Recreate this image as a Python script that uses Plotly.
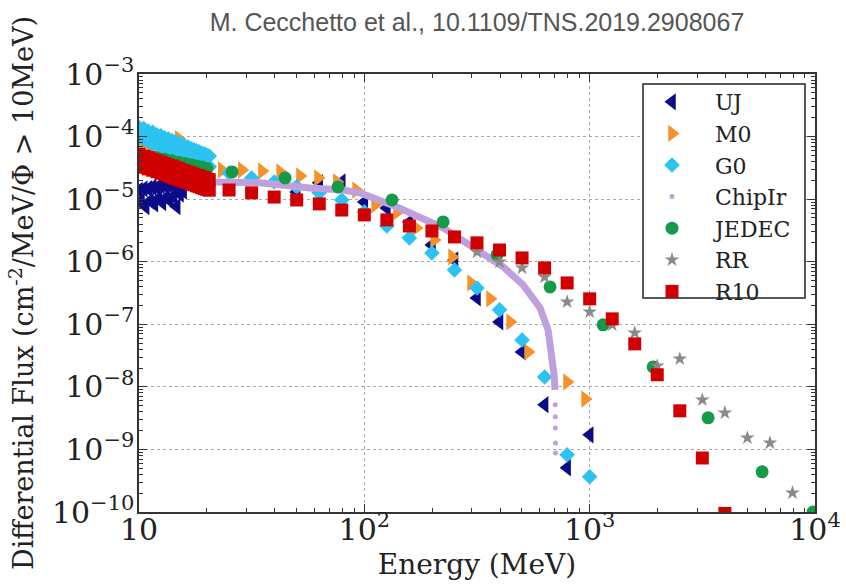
import plotly.graph_objects as go

# ---------------- data (Energy in MeV, differential flux) ----------------
# UJ
uj_dense_top_E = [10.0, 10.5, 11.0, 11.5, 12.0, 12.5, 13.0, 13.5, 14.0, 14.5, 15.0, 15.5, 16.0]
uj_dense_top_F = [1.38e-5, 1.46e-5, 1.47e-5, 1.55e-5, 1.54e-5, 1.63e-5, 1.64e-5, 1.72e-5, 1.71e-5, 1.80e-5, 1.83e-5, 1.92e-5, 1.90e-5]
uj_dense_low_E = [10.2, 10.7, 11.2, 11.7, 12.2, 12.7, 13.2, 13.7, 14.2, 14.7, 15.2, 15.7]
uj_dense_low_F = [9.2e-6, 7.6e-6, 9.4e-6, 8.4e-6, 1.02e-5, 8.8e-6, 1.06e-5, 9.6e-6, 1.12e-5, 7.6e-6, 1.20e-5, 1.35e-5]
uj_E = [50.1, 63.1, 79.4, 100, 125.9, 158.5, 199.5, 251.2, 316.2, 398.1, 501.2, 631.0, 794.3, 1000]
uj_F = [1.30e-5, 1.82e-5, 1.88e-5, 9.0e-6, 7.2e-6, 4.3e-6, 1.85e-6, 1.07e-6, 2.64e-7, 1.09e-7, 3.62e-8, 5.2e-9, 5.1e-10, 1.71e-9]

# M0
m0_dense_E = [10.0, 10.5, 11.0, 11.5, 12.0, 12.5, 13.0, 13.5, 14.0, 14.5, 15.0, 15.5, 16.0, 16.5, 17.0, 17.5, 18.0, 18.5, 19.0, 15.0]
m0_dense_F = [7.2e-5, 5.9e-5, 6.8e-5, 5.6e-5, 6.4e-5, 5.3e-5, 6.2e-5, 5.1e-5, 5.9e-5, 4.9e-5, 5.7e-5, 4.7e-5, 5.5e-5, 4.5e-5, 5.3e-5, 4.4e-5, 5.1e-5, 4.2e-5, 4.9e-5, 9.3e-5]
m0_E = [23.3, 28.6, 35.1, 42.3, 51.8, 62.3, 75.6, 91.9, 111.6, 139.7, 169.6, 203.9, 245.1, 297.6, 361.4, 443.5, 533.0, 793.5, 954.0]
m0_F = [2.92e-5, 2.92e-5, 2.82e-5, 2.72e-5, 2.35e-5, 2.18e-5, 1.88e-5, 1.40e-5, 8.1e-6, 6.25e-6, 3.47e-6, 2.23e-6, 1.19e-6, 4.58e-7, 2.55e-7, 1.09e-7, 3.62e-8, 1.20e-8, 6.4e-9]

# G0
g0_dense_E = [10.0, 10.5, 11.0, 11.5, 12.0, 12.5, 13.0, 13.5, 14.0, 14.5, 15.0, 15.5, 16.0, 16.5, 17.0, 17.5, 18.0, 18.5, 19.0, 19.5, 20.0, 20.5]
g0_dense_hi_F = [1.40e-4, 1.34e-4, 1.21e-4, 1.17e-4, 1.07e-4, 1.03e-4, 9.5e-5, 9.1e-5, 8.6e-5, 8.3e-5, 7.7e-5, 7.5e-5, 7.0e-5, 6.8e-5, 6.4e-5, 6.2e-5, 5.9e-5, 5.7e-5, 5.4e-5, 5.3e-5, 5.0e-5, 4.9e-5]
g0_dense_lo_F = [9.6e-5, 9.1e-5, 8.4e-5, 7.8e-5, 7.4e-5, 7.0e-5, 6.6e-5, 6.1e-5, 5.9e-5, 5.6e-5, 5.3e-5, 5.0e-5, 4.8e-5, 4.6e-5, 4.4e-5, 4.2e-5, 4.0e-5, 3.9e-5, 3.7e-5, 3.6e-5, 3.45e-5, 3.3e-5]
g0_E = [25.1, 31.6, 39.8, 50.1, 63.1, 79.4, 100, 125.9, 158.5, 199.5, 251.2, 316.2, 398.1, 501.2, 631.0, 794.3, 1000]
g0_F = [2.62e-5, 2.18e-5, 1.88e-5, 1.57e-5, 1.26e-5, 9.7e-6, 6.25e-6, 3.73e-6, 2.40e-6, 1.38e-6, 7.4e-7, 3.81e-7, 1.70e-7, 5.6e-8, 1.44e-8, 8.2e-10, 3.65e-10]

# ChipIr
chip_E = [10, 12.4, 16.0, 21.7, 34.4, 57.4, 80.4, 95.7, 139.7, 223.6, 309.9, 412.7, 506.3, 602.3, 653.9, 681, 695, 702]
chip_F = [2.92e-5, 2.53e-5, 2.18e-5, 1.88e-5, 1.82e-5, 1.51e-5, 1.40e-5, 1.26e-5, 7.5e-6, 3.47e-6, 1.66e-6, 8.3e-7, 4.26e-7, 1.83e-7, 8.1e-8, 3.24e-8, 1.56e-8, 8.95e-9]
chip_tail_E = [703, 704, 704, 705, 705]
chip_tail_F = [5.2e-9, 3.32e-9, 2.21e-9, 1.27e-9, 8.8e-10]

# JEDEC
jedec_E = [10, 11, 12, 13, 14, 15, 16, 17, 18, 19, 20,
           25.9, 44.5, 76.4, 132.7, 223.6, 388, 667, 1147, 1912, 3354, 5826, 9808]
jedec_F = [5.2e-5, 4.9e-5, 4.6e-5, 4.35e-5, 4.1e-5, 3.9e-5, 3.7e-5, 3.55e-5, 3.4e-5, 3.25e-5, 3.1e-5,
           2.72e-5, 2.18e-5, 1.57e-5, 9.7e-6, 4.33e-6, 1.29e-6, 3.95e-7, 9.8e-8, 2.08e-8, 3.2e-9, 4.39e-10, 1.0e-10]

# RR
rr_E = [316.2, 398.1, 501.2, 631.0, 794.3, 1000, 1259, 1585, 1995, 2512, 3162, 3981, 5012, 6310, 7943]
rr_F = [1.43e-6, 9.9e-7, 7.96e-7, 5.7e-7, 2.28e-7, 1.58e-7, 9.8e-8, 7.3e-8, 2.16e-8, 2.8e-8, 6.2e-9, 3.85e-9, 1.53e-9, 1.27e-9, 2.03e-10]

# R10
r10_dense_E = [10.0, 10.5, 11.0, 11.5, 12.0, 12.5, 13.0, 13.5, 14.0, 14.5, 15.0, 15.5, 16.0, 16.5, 17.0, 17.5, 18.0, 18.5, 19.0, 19.5, 20.0, 20.5]
r10_dense_hi_F = [5.2e-5, 4.8e-5, 4.6e-5, 4.3e-5, 4.1e-5, 3.9e-5, 3.7e-5, 3.5e-5, 3.4e-5, 3.2e-5, 3.1e-5, 2.9e-5, 2.8e-5, 2.7e-5, 2.6e-5, 2.5e-5, 2.4e-5, 2.35e-5, 2.25e-5, 2.2e-5, 2.1e-5, 2.05e-5]
r10_dense_lo_F = [3.5e-5, 3.25e-5, 3.05e-5, 2.9e-5, 2.75e-5, 2.6e-5, 2.5e-5, 2.35e-5, 2.25e-5, 2.15e-5, 2.05e-5, 1.98e-5, 1.9e-5, 1.83e-5, 1.76e-5, 1.7e-5, 1.63e-5, 1.58e-5, 1.52e-5, 1.48e-5, 1.43e-5, 1.39e-5]
r10_E = [25.1, 31.6, 39.8, 50.1, 63.1, 79.4, 100, 125.9, 158.5, 199.5, 251.2, 316.2, 398.1, 501.2, 631.0, 794.3, 1000, 1259, 1585, 1995, 2512, 3162, 3981]
r10_F = [1.40e-5, 1.26e-5, 1.08e-5, 9.7e-6, 8.4e-6, 6.7e-6, 5.6e-6, 4.66e-6, 3.73e-6, 3.1e-6, 2.49e-6, 2.0e-6, 1.54e-6, 1.15e-6, 7.96e-7, 4.58e-7, 2.55e-7, 1.22e-7, 4.86e-8, 1.56e-8, 4.14e-9, 7.3e-10, 9.5e-11]

TITLE = "M. Cecchetto et al., 10.1109/TNS.2019.2908067"
XTITLE = "Energy (MeV)"
YTITLE = "Differential Flux (cm<sup>-2</sup>/MeV/Φ > 10MeV)"

# ---------------- styles ----------------
C_UJ = "#0b0b8a"
C_M0 = "#f7922a"
C_G0 = "#2cc3f3"
C_CHIP = "#c0a0dc"
C_JEDEC = "#17994a"
C_RR = "#8a8a8a"
C_R10 = "#d00000"
SERIF = "DejaVu Serif"

fig = go.Figure()

def scat(x, y, name, symbol, color, size, show=True):
    fig.add_trace(go.Scatter(
        x=x, y=y, mode="markers", name=name, legendgroup=name, showlegend=show,
        marker=dict(symbol=symbol, color=color, size=size, line=dict(width=0)),
    ))

scat(uj_dense_top_E + uj_dense_low_E + uj_E, uj_dense_top_F + uj_dense_low_F + uj_F,
     "UJ", "triangle-left", C_UJ, 15)
scat(m0_dense_E + m0_E, m0_dense_F + m0_F, "M0", "triangle-right", C_M0, 15)
scat(g0_dense_E + g0_dense_E + g0_E, g0_dense_hi_F + g0_dense_lo_F + g0_F, "G0", "diamond", C_G0, 12)
fig.add_trace(go.Scatter(x=chip_E, y=chip_F, mode="lines", name="ChipIr", legendgroup="ChipIr",
                         showlegend=False, line=dict(color=C_CHIP, width=7)))
scat(chip_tail_E, chip_tail_F, "ChipIr", "circle", C_CHIP, 5)
scat(jedec_E, jedec_F, "JEDEC", "circle", C_JEDEC, 13)
scat(rr_E, rr_F, "RR", "star", C_RR, 11)
scat(r10_dense_E + r10_dense_E + r10_E, r10_dense_hi_F + r10_dense_lo_F + r10_F, "R10", "square", C_R10, 13)

L, R, T, B = 139, 31, 74, 73
W, H = 846, 585
pw, ph = W - L - R, H - T - B

def px(x):
    return (x - L) / pw

def py(y):
    return (H - B - y) / ph

axis_common = dict(
    type="log", dtick=1, exponentformat="power", showexponent="all",
    showgrid=True, gridcolor="#a8a8a8", griddash="dot", gridwidth=1,
    ticks="inside", ticklen=8, tickwidth=1.2, tickcolor="#333",
    showline=True, linecolor="#333", linewidth=1.5, mirror="allticks",
    tickfont=dict(family=SERIF, size=24, color="#222"),
    minor=dict(ticks="inside", ticklen=4, tickwidth=1, tickcolor="#333", showgrid=False, dtick="D1"),
    zeroline=False,
)

fig.update_layout(
    width=W, height=H,
    margin=dict(l=L, r=R, t=T, b=B, autoexpand=False),
    paper_bgcolor="white", plot_bgcolor="white",
    title=dict(text=TITLE, x=px(477), xanchor="center", y=1 - 22 / H, yanchor="middle",
               yref="container", xref="paper",
               font=dict(family="Liberation Sans", size=25, color="#555555")),
    xaxis=dict(range=[1, 4], ticklabelstandoff=-9,
               title=dict(text=XTITLE, font=dict(family=SERIF, size=28, color="#222"), standoff=9),
               **axis_common),
    yaxis=dict(range=[-10, -3], ticklabelstandoff=-2,
               title=dict(text=YTITLE, font=dict(family=SERIF, size=27, color="#222"), standoff=10),
               **axis_common),
    legend=dict(x=px(629), y=py(81), xanchor="left", yanchor="top",
                bgcolor="rgba(0,0,0,0)", borderwidth=0, itemwidth=76,
                font=dict(family=SERIF, size=22, color="#222"), traceorder="normal"),
    shapes=[dict(type="rect", xref="paper", yref="paper",
                 x0=px(643), x1=px(805), y0=py(298), y1=py(84),
                 line=dict(color="#222", width=1.5), fillcolor="white", layer="above")],
    showlegend=True,
)

fig.write_html("out.html")
